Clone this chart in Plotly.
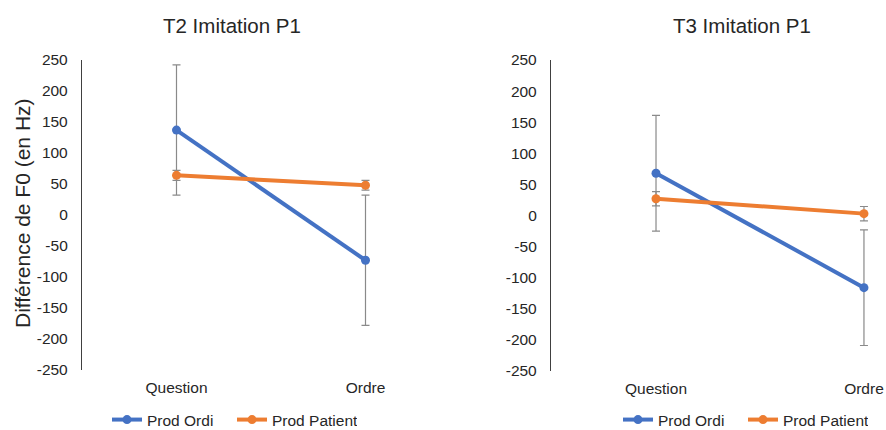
import plotly.graph_objects as go

W, H = 886, 430

categories = ["Question", "Ordre"]
series_names = ["Prod Ordi", "Prod Patient"]

# T2 Imitation P1
t2_ordi = [137, -73]
t2_ordi_err = [105, 105]
t2_patient = [64, 48]
t2_patient_err = [8, 8]

# T3 Imitation P1
t3_ordi = [68, -116]
t3_ordi_err = [93, 93]
t3_patient = [27, 3]
t3_patient_err = [11.5, 11.5]

y_ticks = [250, 200, 150, 100, 50, 0, -50, -100, -150, -200, -250]
y_tick_text = ["250", "200", "150", "100", "50", "0", "-50", "-100", "-150", "-200", "-250"]

BLUE = "#4472C4"
ORANGE = "#ED7D31"
ERR = "#8a8a8a"
TXT = "#262626"
FONT = "Liberation Sans, Arial, sans-serif"

fig = go.Figure()

def add_pair(xa, ya, ordi, ordi_err, pat, pat_err, legend):
    for name, vals, errs, col in [(series_names[0], ordi, ordi_err, BLUE),
                                  (series_names[1], pat, pat_err, ORANGE)]:
        fig.add_trace(go.Scatter(
            x=categories, y=vals, name=name, mode="lines+markers",
            xaxis=xa, yaxis=ya, legend=legend,
            line=dict(color=col, width=4),
            marker=dict(color=col, size=9),
            error_y=dict(type="data", array=errs, visible=True,
                         color=ERR, thickness=1.2, width=4),
        ))

add_pair("x", "y", t2_ordi, t2_ordi_err, t2_patient, t2_patient_err, "legend")
add_pair("x2", "y2", t3_ordi, t3_ordi_err, t3_patient, t3_patient_err, "legend2")

def px_x(p):
    return p / W

def px_y(p):
    return 1 - p / H

yaxis_common = dict(
    range=[-250, 250], tickvals=y_ticks, ticktext=y_tick_text,
    showgrid=False, zeroline=False, automargin=False,
    showline=True, linecolor="#404040", linewidth=1.3, ticks="",
    tickfont=dict(family=FONT, size=15.5, color=TXT), ticklabelstandoff=10,
)
xaxis_common = dict(
    type="category", showgrid=False, zeroline=False, showline=False, ticks="",
    automargin=False,
    tickfont=dict(family=FONT, size=15.5, color=TXT), ticklabelstandoff=6,
)

legend_common = dict(
    orientation="h", xanchor="left", yanchor="middle", y=px_y(420),
    font=dict(family=FONT, size=15.5, color=TXT),
    entrywidth=80, entrywidthmode="pixels", bgcolor="rgba(0,0,0,0)",
)

fig.update_layout(
    width=W, height=H,
    margin=dict(l=0, r=0, t=0, b=0, autoexpand=False),
    paper_bgcolor="white", plot_bgcolor="white",
    showlegend=True,
    xaxis=dict(domain=[px_x(82), px_x(460)], range=[-0.5, 1.5], anchor="y", **xaxis_common),
    yaxis=dict(domain=[px_y(370), px_y(60)], anchor="x", **yaxis_common),
    xaxis2=dict(domain=[px_x(551), 1.0], range=[-0.505, 1.106], anchor="y2", **xaxis_common),
    yaxis2=dict(domain=[px_y(371), px_y(60)], anchor="x2", **yaxis_common),
    legend=dict(x=px_x(107), **legend_common),
    legend2=dict(x=px_x(618), **legend_common),
    annotations=[
        dict(text="T2 Imitation P1", x=px_x(232.5), y=px_y(25.5), xref="paper", yref="paper",
             showarrow=False, xanchor="center", yanchor="middle",
             font=dict(family=FONT, size=20.5, color=TXT)),
        dict(text="T3 Imitation P1", x=px_x(741.5), y=px_y(25.5), xref="paper", yref="paper",
             showarrow=False, xanchor="center", yanchor="middle",
             font=dict(family=FONT, size=20.5, color=TXT)),
        dict(text="Différence de F0 (en Hz)", x=px_x(22), y=px_y(213), xref="paper", yref="paper",
             showarrow=False, xanchor="center", yanchor="middle", textangle=-90,
             font=dict(family=FONT, size=21, color=TXT)),
    ],
)

fig.write_html("out.html")
